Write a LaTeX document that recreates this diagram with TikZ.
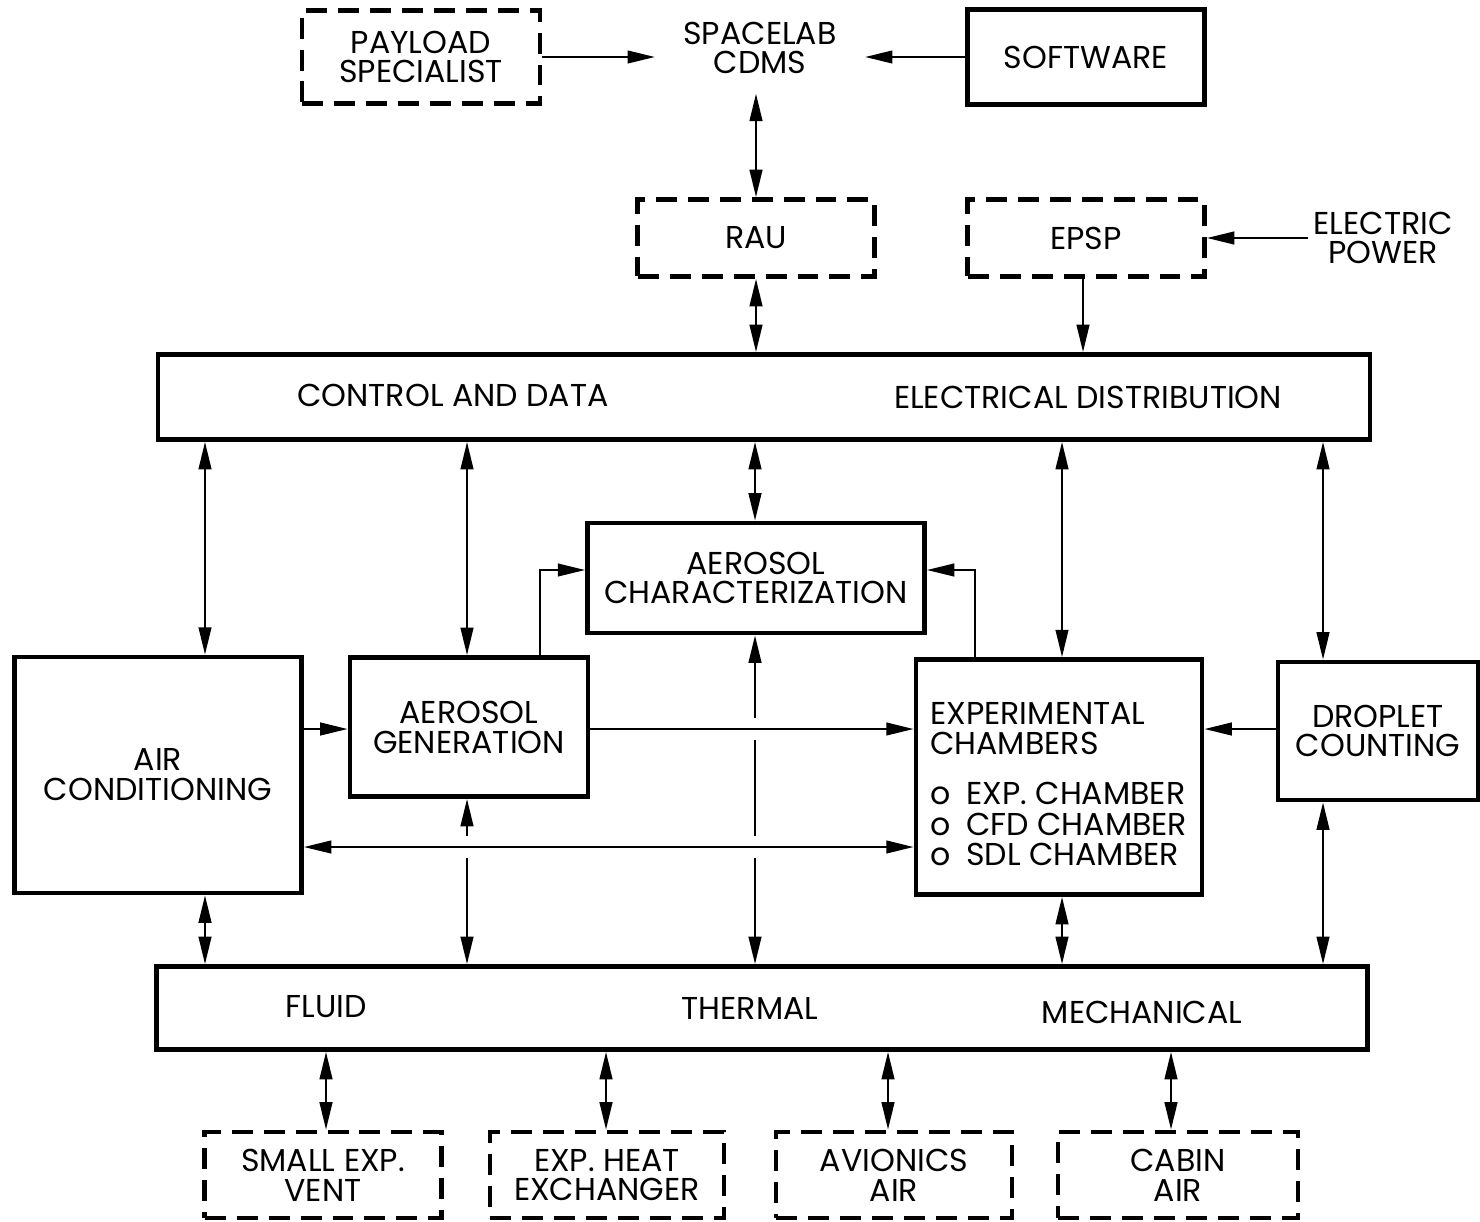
\documentclass[tikz,border=0pt]{standalone}
\usepackage{fontspec}
\setmainfont{Poppins}
\usetikzlibrary{arrows.meta, positioning, calc}

\begin{document}
\begin{tikzpicture}[
  x=0.02cm, y=-0.02cm,
  font=\fontsize{18}{17}\selectfont,
  blk/.style={draw, line width=2.6pt, inner sep=0pt, align=center},
  dblk/.style={blk, dash pattern=on 0.42cm off 0.22cm},
  lbl/.style={inner sep=0pt, align=center},
  a/.style={-{Triangle[length=5.5mm,width=2.5mm]}, line width=1.5pt},
  aa/.style={{Triangle[length=5.5mm,width=2.5mm]}-{Triangle[length=5.5mm,width=2.5mm]}, line width=1.5pt}
]
\useasboundingbox (0,0) rectangle (1480,1221);

% top row
\node[dblk, minimum width=4.76cm, minimum height=1.86cm] (pay) at (421,57) {PAYLOAD\\SPECIALIST};
\node[lbl, inner xsep=0.56cm, inner ysep=0.38cm] (cdms) at (760,48) {SPACELAB\\CDMS};
\node[blk, minimum width=4.74cm, minimum height=1.9cm] (soft) at (1086,57) {SOFTWARE};
\node[dblk, minimum width=4.74cm, minimum height=1.54cm] (rau) at (756,238) {RAU};
\node[dblk, minimum width=4.74cm, minimum height=1.54cm] (epsp) at (1086,238) {EPSP};
\node[lbl, inner xsep=3pt] (pwr) at (1383,238) {ELECTRIC\\POWER};

% buses
\node[blk, minimum width=24.24cm, minimum height=1.7cm] (ctl) at (764,397) {};
\node (ctltxt) at (453,395) {CONTROL AND DATA};
\node (eltxt) at (1088,397) {ELECTRICAL DISTRIBUTION};
\node[blk, minimum width=24.22cm, minimum height=1.66cm] (svc) at (762,1008) {};
\node (fluid) at (326,1007) {FLUID};
\node (therm) at (750,1008) {THERMAL};
\node (mech) at (1142,1012) {MECHANICAL};

% experiment blocks
\node[blk, minimum width=5.74cm, minimum height=4.72cm] (ac) at (158,775) {AIR\\CONDITIONING};
\node[blk, minimum width=4.76cm, minimum height=2.78cm] (gen) at (469,727) {AEROSOL\\GENERATION};
\node[blk, minimum width=6.74cm, minimum height=2.2cm] (char) at (756,578) {AEROSOL\\CHARACTERIZATION};
\node[blk, minimum width=5.72cm, minimum height=4.7cm] (exp) at (1059,777) {};
\node[anchor=north west, inner sep=0pt, align=left] (exptxt) at (930,702)
  {EXPERIMENTAL\\CHAMBERS\\[0.4cm]
   \makebox[0.72cm][l]{o}EXP. CHAMBER\\[0.02cm]
   \makebox[0.72cm][l]{o}CFD CHAMBER\\[0.02cm]
   \makebox[0.72cm][l]{o}SDL CHAMBER};
\node[blk, minimum width=4.0cm, minimum height=2.76cm] (drop) at (1378,731) {DROPLET\\COUNTING};

% bottom row
\node[dblk, minimum width=4.74cm, minimum height=1.72cm] (vent) at (323,1175) {SMALL EXP.\\VENT};
\node[dblk, minimum width=4.68cm, minimum height=1.72cm] (hx) at (607,1175) {EXP. HEAT\\EXCHANGER};
\node[dblk, minimum width=4.72cm, minimum height=1.72cm] (avi) at (894,1175) {AVIONICS\\AIR};
\node[dblk, minimum width=4.8cm, minimum height=1.72cm] (cab) at (1178,1175) {CABIN\\AIR};

\coordinate (r0) at (0,570);
\coordinate (r1) at (0,729);
\coordinate (r2) at (0,847);

% top connections
\draw[a] (pay.east) -- (pay.east -| cdms.west);
\draw[a] (soft.west) -- (soft.west -| cdms.east);
\draw[aa] (cdms.south -| rau.north) -- (rau.north);
\draw[aa] (rau.south) -- (rau.south |- ctl.north);
\draw[a] (pwr) -- (epsp);
\draw[a] (1083,0 |- epsp.south) -- (1083,0 |- ctl.north);

\foreach \n/\x in {ac/205, gen/467, char/755, exp/1062, drop/1323}
  \draw[aa] (\x,0 |- ctl.south) -- (\x,0 |- \n.north);
\foreach \n/\x in {ac/205, gen/467, char/755, exp/1062, drop/1323}
  \draw[aa] (\x,0 |- \n.south) -- (\x,0 |- svc.north);
\foreach \n/\x in {vent/326, hx/606, avi/888, cab/1171}
  \draw[aa] (\x,0 |- svc.south) -- (\x,0 |- \n.north);

% breaks where lines cross
\foreach \x/\y in {467/847, 755/729, 755/847}
  \fill[white] ({\x-8},{\y-11}) rectangle ({\x+8},{\y+11});

\draw[a] (ac.east |- r1) -- (gen.west |- r1);
\draw[a] (gen.east |- r1) -- (exp.west |- r1);
\draw[a] (drop.west |- r1) -- (exp.east |- r1);
\draw[aa] (ac.east |- r2) -- (exp.west |- r2);
\draw[a] (540,0 |- gen.north) |- (char.west |- r0);
\draw[a] (975,0 |- exp.north) |- (char.east |- r0);
\end{tikzpicture}
\end{document}
